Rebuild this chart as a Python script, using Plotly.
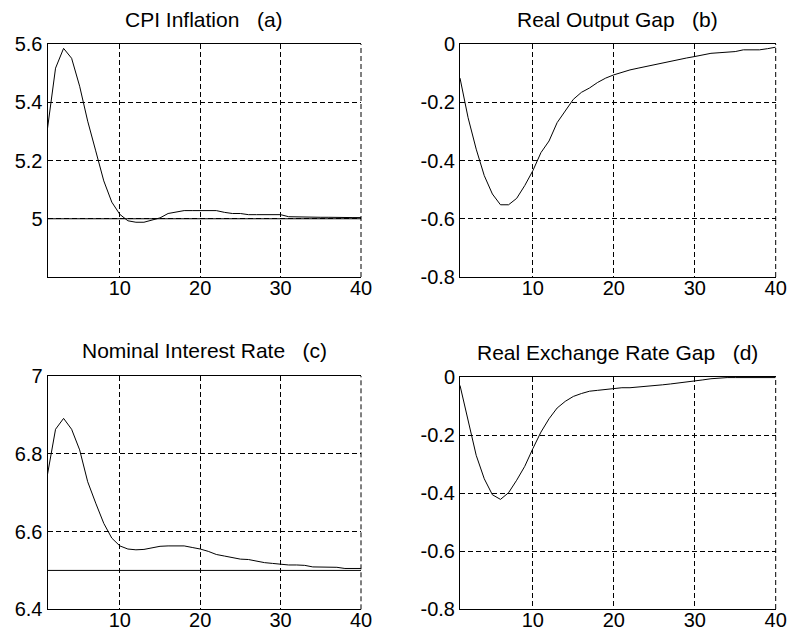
import plotly.graph_objects as go

periods = list(range(1, 41))

cpi_inflation = [5.31, 5.517, 5.585, 5.551, 5.455, 5.335, 5.233, 5.13, 5.057, 5.015,
                 4.993, 4.988, 4.988, 4.996, 5.003, 5.018, 5.024, 5.028, 5.028, 5.028,
                 5.028, 5.028, 5.022, 5.018, 5.018, 5.014, 5.014, 5.014, 5.014, 5.014,
                 5.007, 5.006, 5.006, 5.005, 5.005, 5.005, 5.004, 5.004, 5.004, 5.004]

output_gap = [-0.117, -0.253, -0.361, -0.452, -0.515, -0.552, -0.552, -0.53, -0.486, -0.435,
              -0.373, -0.333, -0.27, -0.23, -0.19, -0.166, -0.151, -0.132, -0.117, -0.106,
              -0.097, -0.089, -0.083, -0.077, -0.07, -0.065, -0.059, -0.054, -0.048, -0.043,
              -0.038, -0.032, -0.03, -0.028, -0.026, -0.02, -0.02, -0.02, -0.016, -0.011]

interest_rate = [6.747, 6.863, 6.891, 6.863, 6.81, 6.728, 6.673, 6.621, 6.583, 6.563,
                 6.555, 6.553, 6.554, 6.558, 6.562, 6.563, 6.563, 6.563, 6.559, 6.555,
                 6.549, 6.541, 6.537, 6.533, 6.529, 6.528, 6.524, 6.520, 6.518, 6.516,
                 6.514, 6.514, 6.513, 6.509, 6.509, 6.509, 6.508, 6.505, 6.505, 6.505]

exchange_gap = [-0.029, -0.155, -0.27, -0.351, -0.406, -0.422, -0.399, -0.356, -0.308, -0.247,
                -0.19, -0.144, -0.107, -0.084, -0.067, -0.057, -0.049, -0.046, -0.043, -0.038,
                -0.037, -0.037, -0.035, -0.032, -0.029, -0.027, -0.024, -0.021, -0.017, -0.014,
                -0.01, -0.006, -0.003, -0.002, -0.002, -0.002, -0.002, -0.002, -0.002, -0.002]

steady_inflation = 5.0
steady_interest = 6.5

titles = ["CPI Inflation\u00a0\u00a0\u00a0(a)", "Real Output Gap\u00a0\u00a0\u00a0(b)",
          "Nominal Interest Rate\u00a0\u00a0\u00a0(c)", "Real Exchange Rate Gap\u00a0\u00a0\u00a0(d)"]

x_ticks = [10, 20, 30, 40]
x_ticktext = ["10", "20", "30", "40"]
y_ticks_a = [5.0, 5.2, 5.4, 5.6]
y_text_a = ["5", "5.2", "5.4", "5.6"]
y_ticks_gap = [-0.8, -0.6, -0.4, -0.2, 0.0]
y_text_gap = ["-0.8", "-0.6", "-0.4", "-0.2", "0"]
y_ticks_c = [6.4, 6.6, 6.8, 7.0]
y_text_c = ["6.4", "6.6", "6.8", "7"]

W, H = 788, 636
FONT = "Liberation Sans, Arial, sans-serif"
FS_TITLE = 21
FS_TICK = 20
DASH = "5px,3px"

# panel geometry in pixels: (left, right, top, bottom)
panels = [
    (47.5, 361.0, 44.0, 277.0),
    (460.0, 775.7, 44.0, 277.0),
    (47.5, 361.0, 376.0, 609.3),
    (460.0, 775.7, 377.0, 609.0),
]
yranges = [[4.8, 5.6], [-0.8, 0.0], [6.4, 7.0], [-0.8, 0.0]]
yticks = [(y_ticks_a, y_text_a), (y_ticks_gap, y_text_gap), (y_ticks_c, y_text_c), (y_ticks_gap, y_text_gap)]
series = [cpi_inflation, output_gap, interest_rate, exchange_gap]
title_y_px = [20, 20, 350, 352]

fig = go.Figure()
layout = dict(
    width=W, height=H, margin=dict(l=0, r=0, t=0, b=0, autoexpand=False),
    paper_bgcolor="white", plot_bgcolor="white", showlegend=False,
    font=dict(family=FONT, size=FS_TICK, color="black"),
    annotations=[], shapes=[],
)

for i, (l, r, t, b) in enumerate(panels):
    n = "" if i == 0 else str(i + 1)
    xa, ya = "x" + n, "y" + n
    fig.add_trace(go.Scatter(x=periods, y=series[i], mode="lines",
                             line=dict(color="black", width=1), xaxis=xa, yaxis=ya,
                             hoverinfo="skip"))
    if i == 0:
        fig.add_trace(go.Scatter(x=[periods[0], periods[-1]], y=[steady_inflation] * 2, mode="lines",
                                 line=dict(color="black", width=1), xaxis=xa, yaxis=ya))
    if i == 2:
        fig.add_trace(go.Scatter(x=[periods[0], periods[-1]], y=[steady_interest] * 2, mode="lines",
                                 line=dict(color="black", width=1), xaxis=xa, yaxis=ya))
    layout["xaxis" + n] = dict(
        domain=[l / W, r / W], anchor=ya, range=[1, 40],
        tickvals=x_ticks, ticktext=x_ticktext, automargin=False,
        showgrid=True, gridcolor="black", griddash=DASH, gridwidth=1,
        showline=True, linecolor="black", linewidth=1, mirror=True,
        ticks="", zeroline=False, tickfont=dict(size=FS_TICK),
        ticklabelstandoff=-7,
    )
    layout["yaxis" + n] = dict(
        domain=[1 - b / H, 1 - t / H], anchor=xa, range=yranges[i],
        tickvals=yticks[i][0], ticktext=yticks[i][1], automargin=False,
        showgrid=True, gridcolor="black", griddash=DASH, gridwidth=1,
        showline=True, linecolor="black", linewidth=1, mirror=False,
        ticks="", zeroline=False, tickfont=dict(size=FS_TICK),
    )
    # dashed right frame edge (MATLAB grid line at the last x tick)
    layout["shapes"].append(dict(
        type="line", xref=xa + " domain", yref=ya + " domain",
        x0=1, x1=1, y0=0, y1=1, line=dict(color="black", width=1, dash=DASH),
    ))
    layout["annotations"].append(dict(
        text=titles[i], xref="paper", yref="paper",
        x=(l + r) / 2 / W, y=1 - title_y_px[i] / H, xanchor="center", yanchor="middle",
        showarrow=False, font=dict(size=FS_TITLE, family=FONT, color="black"),
    ))

fig.update_layout(**layout)
fig.write_html("out.html")
